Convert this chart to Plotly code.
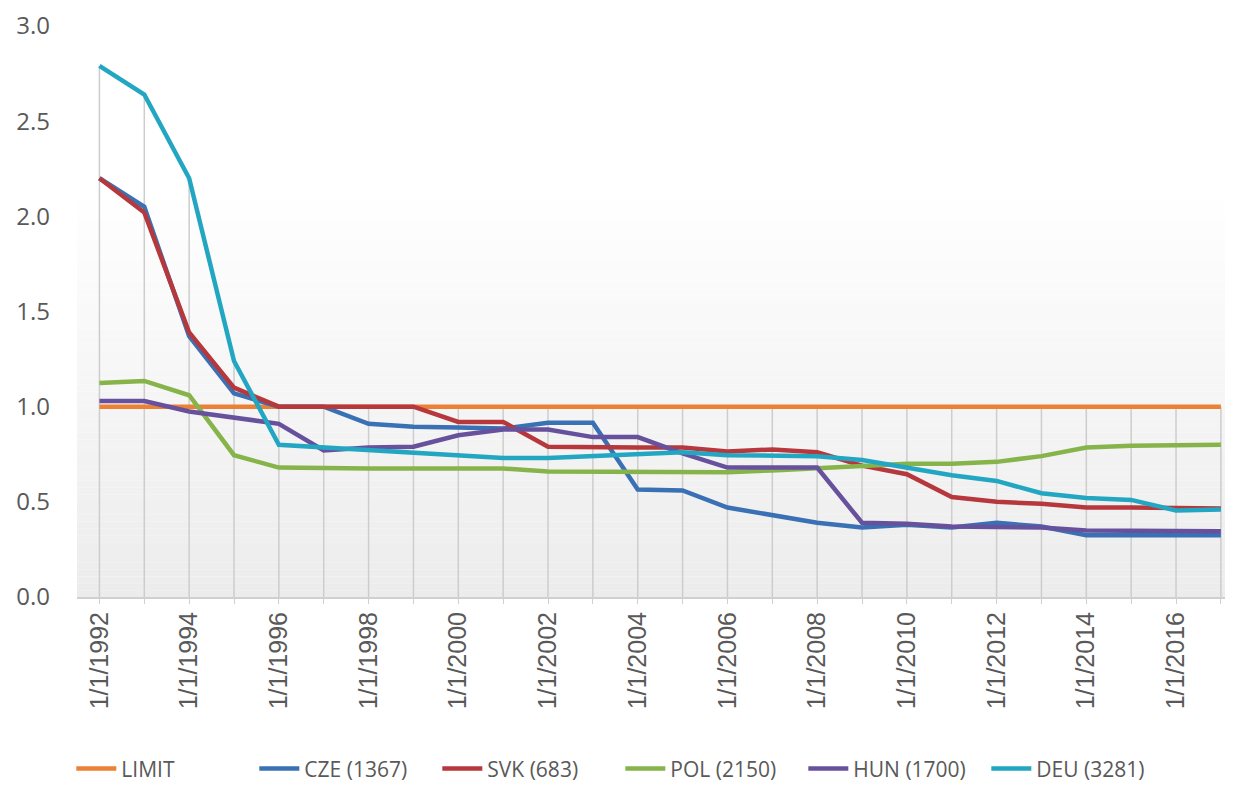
import plotly.graph_objects as go

years = list(range(1992, 2018))
tick_years = list(range(1992, 2017, 2))
tick_labels = [f"1/1/{y}" for y in tick_years]

limit = [1.0] * 26
cze = [2.20, 2.05, 1.37, 1.07, 1.00, 1.00, 0.91, 0.895, 0.89, 0.885, 0.915, 0.915, 0.565, 0.56,
       0.47, 0.43, 0.39, 0.365, 0.38, 0.365, 0.39, 0.37, 0.325, 0.325, 0.325, 0.325]
svk = [2.20, 2.02, 1.39, 1.10, 1.00, 1.00, 1.00, 1.00, 0.92, 0.92, 0.79, 0.785, 0.785, 0.785,
       0.765, 0.775, 0.76, 0.69, 0.645, 0.525, 0.50, 0.49, 0.47, 0.47, 0.465, 0.465]
pol = [1.125, 1.135, 1.06, 0.745, 0.68, 0.675, 0.675, 0.675, 0.675, 0.675, 0.66, 0.66, 0.655,
       0.655, 0.655, 0.665, 0.675, 0.685, 0.70, 0.70, 0.71, 0.74, 0.785, 0.795, 0.795, 0.80]
hun = [1.03, 1.03, 0.975, 0.94, 0.91, 0.77, 0.785, 0.79, 0.85, 0.88, 0.88, 0.84, 0.84, 0.755,
       0.68, 0.68, 0.68, 0.39, 0.385, 0.37, 0.37, 0.365, 0.35, 0.35, 0.345, 0.345]
deu = [2.79, 2.64, 2.20, 1.24, 0.80, 0.785, 0.77, 0.76, 0.74, 0.73, 0.73, 0.74, 0.745, 0.76,
       0.745, 0.745, 0.74, 0.72, 0.68, 0.64, 0.61, 0.545, 0.52, 0.51, 0.455, 0.46]

names = ["LIMIT", "CZE (1367)", "SVK (683)", "POL (2150)", "HUN (1700)", "DEU (3281)"]
series = [limit, cze, svk, pol, hun, deu]
colors = ["#EC8034", "#3A70B4", "#B6383C", "#86B44A", "#67519C", "#22A6C2"]

fig = go.Figure()

# drop lines from highest series value to axis
dx, dy = [], []
for i, yr in enumerate(years):
    top = max(s[i] for s in series)
    dx += [yr, yr, None]
    dy += [0, top, None]
fig.add_trace(go.Scatter(x=dx, y=dy, mode="lines", line=dict(color="#cdcdcd", width=1.5),
                         showlegend=False, hoverinfo="skip"))

for name, s, c in zip(names, series, colors):
    fig.add_trace(go.Scatter(x=years, y=s, mode="lines", name=name,
                             line=dict(color=c, width=4.5)))

# background gradient
shapes = []
n = 60
g_top = 0.72
for k in range(n):
    y0 = g_top * k / n
    y1 = g_top * (k + 1) / n
    frac = 1 - (k + 0.5) / n
    v = int(round(255 - (255 - 236) * frac))
    shapes.append(dict(type="rect", xref="paper", yref="paper", x0=0, x1=1, y0=y0, y1=y1,
                       fillcolor=f"rgb({v},{v},{v})", line=dict(width=0), layer="below"))

fig.update_layout(
    width=1225, height=789,
    margin=dict(l=69, r=0, t=16, b=200),
    paper_bgcolor="white", plot_bgcolor="white",
    shapes=shapes,
    font=dict(family="Open Sans", color="#595959"),
    legend=dict(orientation="h", x=0.47, xanchor="center", y=-0.265, yanchor="top",
                font=dict(size=21, color="#595959"), itemwidth=40,
                entrywidth=128, entrywidthmode="pixels"),
    xaxis=dict(range=[1991.5, 2017.27], tickvals=tick_years, ticktext=tick_labels,
               tickangle=-90, tickfont=dict(family="Liberation Sans", size=25, color="#595959"),
               showgrid=False, zeroline=False, showline=True, linecolor="#d0d0d0", linewidth=2,
               ticks="", ticklabelstandoff=3,
               minor=dict(ticks="outside", dtick=1, tick0=1992, ticklen=5, tickcolor="#d0d0d0")),
    yaxis=dict(range=[0, 3], tickvals=[0, 0.5, 1, 1.5, 2, 2.5, 3], tickformat=".1f",
               tickfont=dict(family="Open Sans", size=24, color="#595959"),
               showgrid=False, zeroline=False, showline=False, ticklabelstandoff=26,
               ticklabeloverflow="allow"),
)

fig.write_html("out.html")
